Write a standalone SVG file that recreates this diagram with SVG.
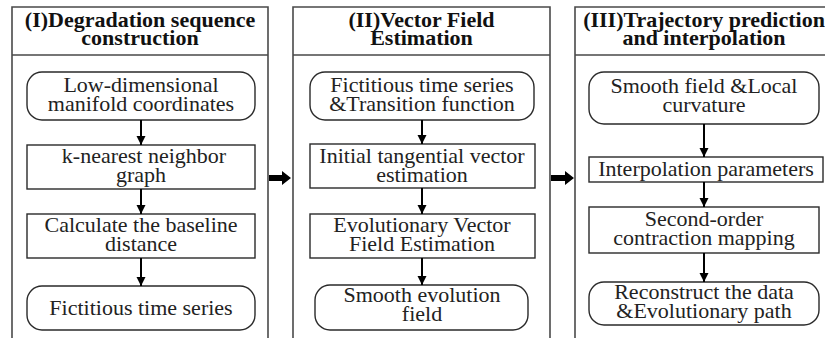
<svg xmlns="http://www.w3.org/2000/svg" width="825" height="346" viewBox="0 0 825 346">
  <style>
    .panel { fill: none; stroke: #4a4a4a; stroke-width: 1.6; }
    .node { fill: #fff; stroke: #2a2a2a; stroke-width: 1.4; }
    .head { font-family: "Liberation Serif", "Times New Roman", serif; font-weight: bold; font-size: 22px; fill: #111; text-anchor: middle; }
    .lbl { font-family: "Liberation Serif", "Times New Roman", serif; font-size: 22px; fill: #222; text-anchor: middle; }
    .link { stroke: #000; stroke-width: 2; fill: none; marker-end: url(#tip); }
    .big { fill: #000; }
  </style>
  <defs>
    <marker id="tip" viewBox="0 0 10 10" refX="10" refY="5" markerWidth="4.5" markerHeight="5" markerUnits="strokeWidth" orient="auto">
      <path d="M0,0 L10,5 L0,10 z" fill="#000"/>
    </marker>
  </defs>
  <rect width="825" height="346" fill="#fff"/>

  <!-- stage panels -->
  <g id="panel1">
    <path class="panel" d="M12,338 V7 H268 V338 M12,55 H268"/>
    <text class="head" x="140" y="27">(I)Degradation sequence</text>
    <text class="head" x="140" y="45">construction</text>
  </g>
  <g id="panel2">
    <path class="panel" d="M293,338 V7 H550 V338 M293,55 H550"/>
    <text class="head" x="421.5" y="27">(II)Vector Field</text>
    <text class="head" x="421.5" y="45">Estimation</text>
  </g>
  <g id="panel3">
    <path class="panel" d="M575,338 V7 H833 V338 M575,55 H833"/>
    <text class="head" x="704" y="27">(III)Trajectory prediction</text>
    <text class="head" x="704" y="45">and interpolation</text>
  </g>

  <!-- stage I steps -->
  <g id="n1a">
    <rect class="node" x="27" y="72" width="228" height="48" rx="15"/>
    <text class="lbl" x="141" y="92">Low-dimensional</text>
    <text class="lbl" x="141" y="111">manifold coordinates</text>
  </g>
  <g id="n1b">
    <rect class="node" x="27" y="145" width="228" height="44"/>
    <text class="lbl" x="144" y="163">k-nearest neighbor</text>
    <text class="lbl" x="141" y="182">graph</text>
  </g>
  <g id="n1c">
    <rect class="node" x="27" y="214" width="228" height="44"/>
    <text class="lbl" x="141" y="232">Calculate the baseline</text>
    <text class="lbl" x="141" y="251">distance</text>
  </g>
  <g id="n1d">
    <rect class="node" x="27" y="286" width="228" height="44" rx="15"/>
    <text class="lbl" x="141" y="315">Fictitious time series</text>
  </g>

  <!-- stage II steps -->
  <g id="n2a">
    <rect class="node" x="310" y="72" width="224" height="48" rx="15"/>
    <text class="lbl" x="422" y="92">Fictitious time series</text>
    <text class="lbl" x="422" y="111">&amp;Transition function</text>
  </g>
  <g id="n2b">
    <rect class="node" x="310" y="144" width="225" height="44"/>
    <text class="lbl" x="422" y="163">Initial tangential vector</text>
    <text class="lbl" x="422" y="182">estimation</text>
  </g>
  <g id="n2c">
    <rect class="node" x="310" y="214" width="225" height="44"/>
    <text class="lbl" x="422" y="232">Evolutionary Vector</text>
    <text class="lbl" x="422" y="251">Field Estimation</text>
  </g>
  <g id="n2d">
    <rect class="node" x="315" y="285" width="213" height="45" rx="15"/>
    <text class="lbl" x="422" y="302">Smooth evolution</text>
    <text class="lbl" x="422" y="321">field</text>
  </g>

  <!-- stage III steps -->
  <g id="n3a">
    <rect class="node" x="589" y="72" width="230" height="52" rx="15"/>
    <text class="lbl" x="704" y="93">Smooth field &amp;Local</text>
    <text class="lbl" x="704" y="112">curvature</text>
  </g>
  <g id="n3b">
    <rect class="node" x="589" y="157" width="234" height="25"/>
    <text class="lbl" x="706" y="176">Interpolation parameters</text>
  </g>
  <g id="n3c">
    <rect class="node" x="589" y="207" width="230" height="46"/>
    <text class="lbl" x="704" y="226">Second-order</text>
    <text class="lbl" x="704" y="245">contraction mapping</text>
  </g>
  <g id="n3d">
    <rect class="node" x="589" y="282" width="230" height="43" rx="15"/>
    <text class="lbl" x="704" y="299">Reconstruct the data</text>
    <text class="lbl" x="704" y="318">&amp;Evolutionary path</text>
  </g>

  <!-- connectors -->
  <g id="connectors">
    <line class="link" x1="141" y1="120" x2="141" y2="145"/>
    <line class="link" x1="141" y1="189" x2="141" y2="214"/>
    <line class="link" x1="141" y1="258" x2="141" y2="286"/>
    <line class="link" x1="422" y1="120" x2="422" y2="144"/>
    <line class="link" x1="422" y1="188" x2="422" y2="214"/>
    <line class="link" x1="422" y1="258" x2="422" y2="285"/>
    <line class="link" x1="704" y1="124" x2="704" y2="157"/>
    <line class="link" x1="704" y1="182" x2="704" y2="207"/>
    <line class="link" x1="704" y1="253" x2="704" y2="282"/>
    <path class="big" d="M269,175 H282 V171 L291,178 L282,185 V181 H269 z"/>
    <path class="big" d="M551,175 H565 V171 L574,178 L565,185 V181 H551 z"/>
  </g>
</svg>
